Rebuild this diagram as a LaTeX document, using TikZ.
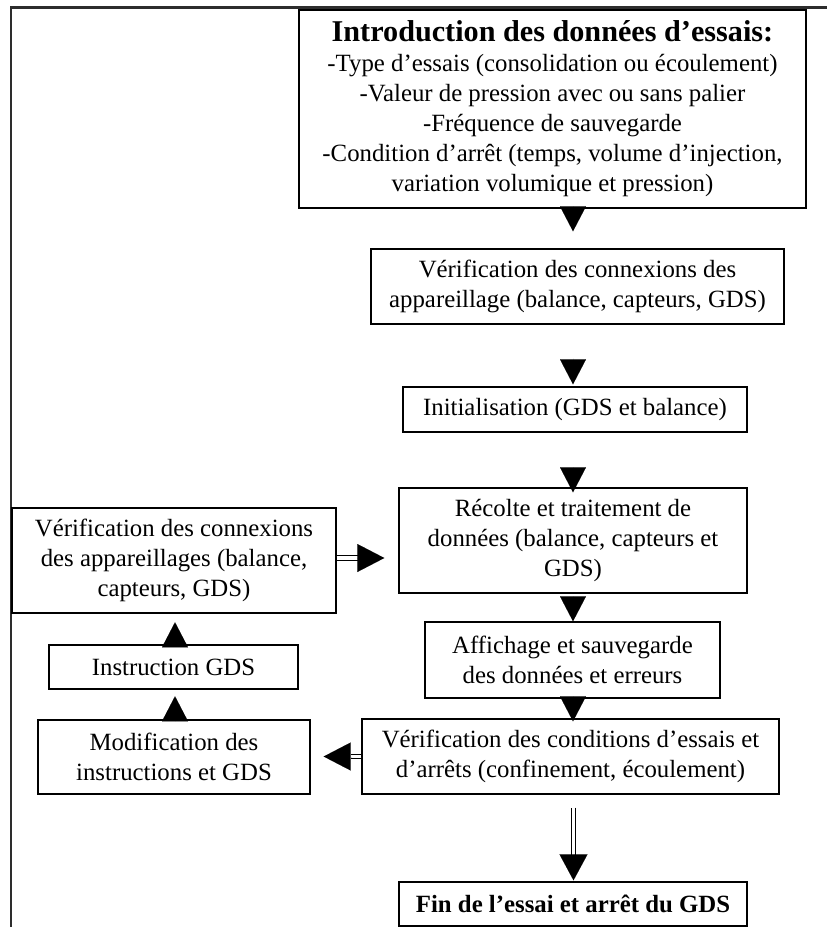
\documentclass[tikz,border=0pt]{standalone}
\usepackage{fontspec}
\setmainfont{Liberation Serif}
\usetikzlibrary{arrows.meta,calc}
\definecolor{framegray}{RGB}{45,45,45}
\begin{document}
\begin{tikzpicture}[x=1pt,y=-1pt,
  box/.style={draw=black, line width=1.4pt, inner sep=0pt, align=center,
    font=\fontsize{24.8}{30}\selectfont},
  tridown/.style={-{Triangle[length=25pt,width=26pt]}, line width=0.01pt},
  trieup/.style={-{Triangle[length=25pt,width=26pt]}, line width=0.01pt},
  trihor/.style={-{Triangle[length=27pt,width=28pt]}, line width=0.01pt},
  dbl/.style={draw=black, line width=1.2pt, double=white, double distance=3.4pt}
]
\useasboundingbox (0,0) rectangle (827,927);
% page frame
\draw[framegray, line width=2.8pt, line join=miter] (11,927) -- (11,7.5) -- (827,7.5);

\coordinate (cx) at (573,0);
\coordinate (cx2) at (573.5,0);
\coordinate (ux) at (175,0);

% main column
\node[box, minimum width=507pt, minimum height=198pt] (intro) at (552.5,109)
 {{\fontsize{30.2}{30}\selectfont\bfseries Introduction des données d’essais:}\\
  -Type d’essais (consolidation ou écoulement)\\
  -Valeur de pression avec ou sans palier\\
  -Fréquence de sauvegarde\\
  -Condition d’arrêt (temps, volume d’injection,\\
  variation volumique et pression)};
\node[box, minimum width=413pt, minimum height=75pt] (ver) at (577.5,286.5)
 {Vérification des connexions des\\ appareillage (balance, capteurs, GDS)};
\node[box, minimum width=344pt, minimum height=45pt] (init) at (575,409.5)
 {Initialisation (GDS et balance)};
\node[box, minimum width=348pt, minimum height=105pt] (recolte) at (573,540.5)
 {Récolte et traitement de\\ données (balance, capteurs et\\ GDS)};
\node[box, minimum width=295pt, minimum height=76pt] (aff) at (572.5,660)
 {Affichage et sauvegarde\\ des données et erreurs};
\node[box, minimum width=417pt, minimum height=75pt] (cond) at (570.5,756.5)
 {Vérification des conditions d’essais et\\ d’arrêts (confinement, écoulement)};
\node[box, minimum width=348pt, minimum height=44pt, font=\fontsize{24.8}{30}\selectfont\bfseries] (fin) at (573,904)
 {Fin de l’essai et arrêt du GDS};

% left column
\node[box, minimum width=324pt, minimum height=105pt] (vl) at (174,560.5)
 {Vérification des connexions\\ des appareillages (balance,\\ capteurs, GDS)};
\node[box, minimum width=249pt, minimum height=44pt] (instr) at (173.5,667)
 {Instruction GDS};
\node[box, minimum width=272pt, minimum height=74pt] (modif) at (174,757)
 {Modification des\\ instructions et GDS};

% downward arrows
\draw[tridown] (intro.south -| cx) -- ($(ver.north -| cx)+(0,-17)$);
\draw[tridown] ($(ver.south -| cx)+(0,34)$) -- ($(init.north -| cx)+(0,-2)$);
\draw[tridown] ($(init.south -| cx)+(0,36)$) -- ($(recolte.north -| cx)+(0,5)$);
\draw[tridown] ($(recolte.south -| cx)+(0,3)$) -- (aff.north -| cx);
\draw[tridown] ($(aff.south -| cx)+(0,-2)$) -- ($(cond.north -| cx)+(0,3)$);

% double arrow to end
\draw[dbl] ($(cond.south -| cx2)+(0,13)$) -- ($(fin.north -| cx2)+(0,-26)$) coordinate (dh);
\draw[-{Triangle[length=26pt,width=28pt]}, line width=0.01pt] (dh) -- ($(fin.north -| cx2)+(0,-1)$);

% upward arrows
\draw[trieup] ($(modif.north -| ux)+(0,2)$) -- ++(0,-25);
\draw[trieup] ($(instr.north -| ux)+(0,2)$) -- ++(0,-24);

% double arrow right (vl -> recolte)
\draw[dbl] ($(vl.east)+(0,-2.5)$) -- ++(22,0) coordinate (rh);
\draw[trihor] (rh) -- ($(recolte.west |- rh)+(-14,0)$);

% double arrow left (cond -> modif)
\draw[dbl] (cond.west) -- ++(-10,0) coordinate (lh);
\draw[trihor] (lh) -- ($(modif.east |- lh)+(13,0)$);
\end{tikzpicture}
\end{document}
